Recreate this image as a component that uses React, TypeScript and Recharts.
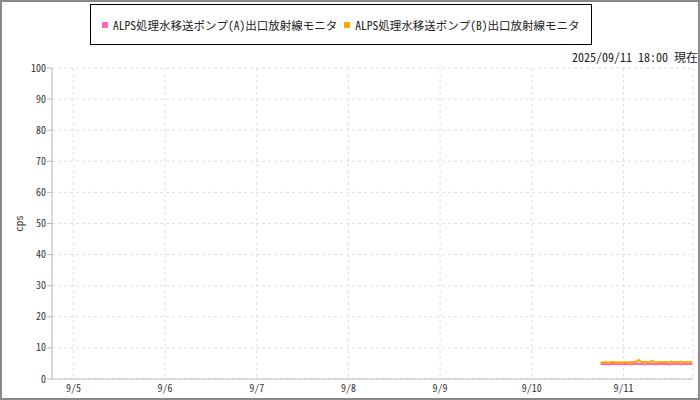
import React from "react";
import { LineChart, Line, XAxis, YAxis, CartesianGrid } from "recharts";

// hours since 2025-09-05 00:00
const times: number[] = [
  138, 138.5, 139, 139.5, 140, 140.5, 141, 141.5, 142, 142.5,
  143, 143.5, 144, 144.5, 145, 145.5, 146, 146.5, 147, 147.5,
  148, 148.5, 149, 149.5, 150, 150.5, 151, 151.5, 152, 152.5,
  153, 153.5, 154, 154.5, 155, 155.5, 156, 156.5, 157, 157.5,
  158, 158.5, 159, 159.5, 160, 160.5, 161, 161.5, 162,
];
const seriesA: number[] = [
  4.8, 4.8, 4.9, 4.8, 4.7, 4.8, 4.8, 4.9, 4.8, 4.8,
  4.7, 4.8, 4.9, 4.8, 4.8, 4.8, 4.7, 4.8, 4.8, 4.9,
  4.8, 4.8, 4.8, 4.7, 4.8, 4.8, 4.9, 4.8, 4.8, 4.7,
  4.8, 4.8, 4.8, 4.9, 4.8, 4.8, 4.7, 4.8, 4.8, 4.8,
  4.9, 4.8, 4.7, 4.8, 4.8, 4.8, 4.9, 4.8, 4.8,
];
const seriesB: number[] = [
  5.4, 5.3, 5.4, 5.4, 5.3, 5.4, 5.5, 5.4, 5.3, 5.4,
  5.4, 5.3, 5.4, 5.4, 5.3, 5.4, 5.4, 5.5, 5.4, 5.7,
  6.1, 5.6, 5.4, 5.5, 5.4, 5.4, 5.5, 5.8, 5.5, 5.4,
  5.4, 5.5, 5.4, 5.4, 5.5, 5.4, 5.4, 5.6, 5.4, 5.4,
  5.5, 5.4, 5.6, 5.4, 5.4, 5.5, 5.4, 5.4, 5.5,
];
const seriesNames: string[] = [
  "ALPS処理水移送ポンプ(A)出口放射線モニタ",
  "ALPS処理水移送ポンプ(B)出口放射線モニタ",
];
const seriesColors: string[] = ["#ff69b4", "#ffa500"];
const xTicks: number[] = [0, 24, 48, 72, 96, 120, 144];
const xTickLabels: string[] = ["9/5", "9/6", "9/7", "9/8", "9/9", "9/10", "9/11"];
const yTicks: number[] = [0, 10, 20, 30, 40, 50, 60, 70, 80, 90, 100];
const stampText = "2025/09/11 18:00 現在";
const yLabel = "cps";

const data = times.map((t, i) => ({ t, a: seriesA[i], b: seriesB[i] }));

const FONT = '"Noto Sans Mono CJK JP", "DejaVu Sans Mono", monospace';

export default function App() {
  return (
    <div
      style={{
        position: "absolute",
        left: 0,
        top: 0,
        width: 700,
        height: 400,
        boxSizing: "border-box",
        border: "2px solid #888",
        background: "#fff",
        fontFamily: FONT,
        overflow: "hidden",
      }}
    >
      <div
        style={{
          position: "absolute",
          left: 88,
          top: 2,
          width: 502,
          height: 41,
          border: "1px solid #000",
          boxSizing: "border-box",
          display: "flex",
          alignItems: "center",
          paddingLeft: 11,
          fontSize: 11.5,
          color: "#222",
          whiteSpace: "nowrap",
        }}
      >
        {seriesNames.map((n, i) => (
          <span key={n} style={{ display: "inline-flex", alignItems: "center", marginRight: 7 }}>
            <span
              style={{
                display: "inline-block",
                width: 6,
                height: 6,
                background: seriesColors[i],
                marginRight: 5,
              }}
            />
            {n}
          </span>
        ))}
      </div>
      <div
        style={{
          position: "absolute",
          right: 0,
          top: 46,
          fontSize: 12,
          color: "#222",
          whiteSpace: "nowrap",
        }}
      >
        {stampText}
      </div>
      <div style={{ position: "absolute", left: -2, top: -2 }}>
        <LineChart
          width={700}
          height={400}
          data={data}
          margin={{ top: 68, right: 7, left: 0, bottom: 0 }}
        >
          <CartesianGrid stroke="#e0e0e0" strokeDasharray="3 3" vertical={true} />
          <XAxis
            dataKey="t"
            type="number"
            domain={[-5.6, 162.2]}
            ticks={xTicks}
            tickFormatter={(v: number) => xTickLabels[xTicks.indexOf(v)] ?? ""}
            tickLine={false}
            tickSize={4}
            tickMargin={2}
            height={21}
            allowDataOverflow
            stroke="#bbb"
            tick={{ fill: "#333", fontSize: 10, fontFamily: FONT }}
          />
          <YAxis
            domain={[0, 100]}
            ticks={yTicks}
            width={52}
            tickSize={5}
            tickMargin={1}
            stroke="#bbb"
            tick={{ fill: "#333", fontSize: 10, fontFamily: FONT }}
            label={{
              value: yLabel,
              angle: -90,
              position: "insideLeft",
              offset: 19,
              style: { fill: "#333", fontSize: 11, fontFamily: FONT, textAnchor: "middle" },
            }}
          />
          <Line
            dataKey="a"
            stroke={seriesColors[0]}
            strokeWidth={2}
            dot={false}
            isAnimationActive={false}
          />
          <Line
            dataKey="b"
            stroke={seriesColors[1]}
            strokeWidth={2}
            dot={false}
            isAnimationActive={false}
          />
        </LineChart>
      </div>
    </div>
  );
}
